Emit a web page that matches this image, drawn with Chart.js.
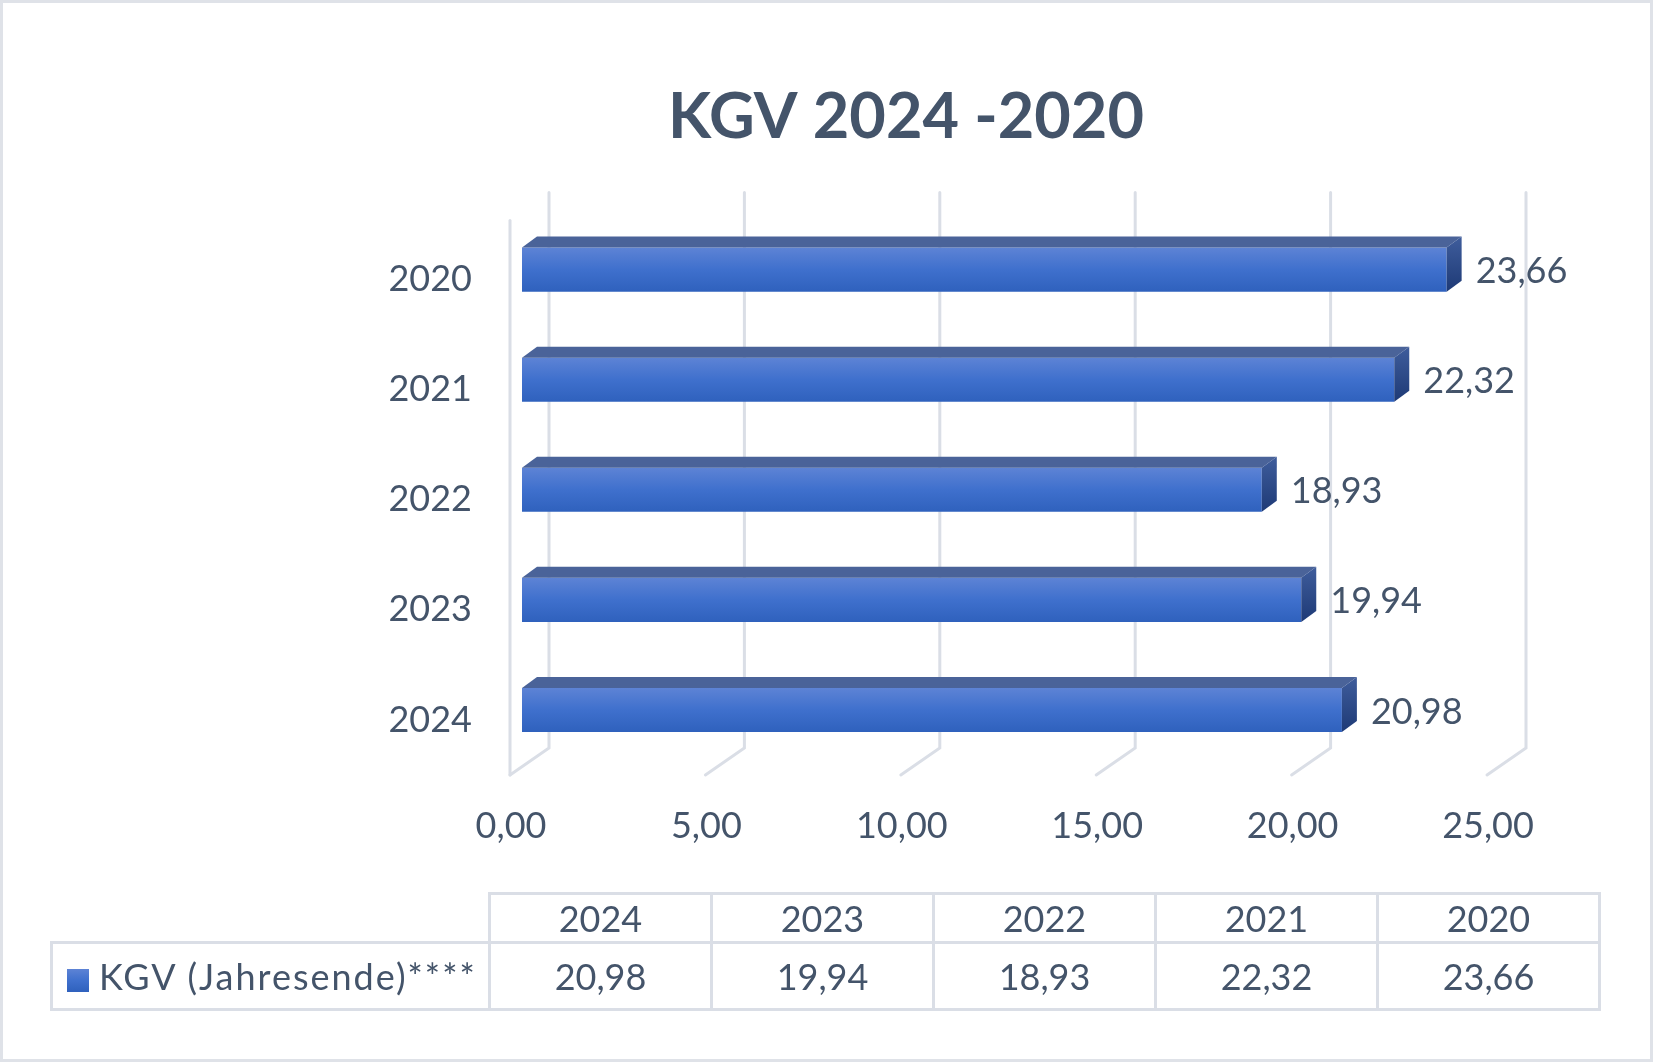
<!DOCTYPE html>
<html>
<head>
<meta charset="utf-8">
<script src="https://cdn.jsdelivr.net/npm/chart.js@4.4.1/dist/chart.umd.min.js"></script>
<style>
  html, body { margin: 0; padding: 0; background: #fff; }
  #frame {
    position: relative; width: 1653px; height: 1062px;
    box-sizing: border-box; border: 3px solid #dfe2e8; overflow: hidden;
  }
  #chart { position: absolute; left: -3px; top: -3px; }
  #dataTable {
    position: absolute; left: 47px; top: 889px;
    border-collapse: collapse; table-layout: fixed;
    font-family: Lato, sans-serif; font-size: 36px; color: #44546a;
  }
  #dataTable td { border: 3px solid #dadee6; text-align: center; padding: 0; }
  #dataTable tr.head td { height: 46px; }
  #dataTable tr.vals td { height: 64px; }
  #dataTable td.blank { border: none; }
  #dataTable td.legend { text-align: left; white-space: nowrap; letter-spacing: 2px; }
  .key {
    display: inline-block; width: 22px; height: 23px; margin: 0 10px 0 14px;
    vertical-align: -2px; background: linear-gradient(#5d83d5, #3f70cd 50%, #2f61bd);
  }
</style>
</head>
<body>
<div id="frame">
  <canvas id="chart" width="1653" height="1062"></canvas>
  <table id="dataTable"></table>
</div>
<script>
// data, first year is plotted at the bottom (Excel order)
const years = ['2024', '2023', '2022', '2021', '2020'];
const kgv = [20.98, 19.94, 18.93, 22.32, 23.66];
const seriesName = 'KGV (Jahresende)****';
const chartTitle = 'KGV 2024 -2020';

const textColor = '#44546a';
const gridColor = '#dadee6';
const fmt = (v) => v.toFixed(2).replace('.', ',');

// 3d look
const BAR_DX = 15, BAR_DY = 11;   // bar depth
const BACK_DX = 27;              // back wall offset from bar front
const FLOOR_DX = 39;             // floor diagonal

const threeD = {
    id: 'threeD',
    beforeDatasetsDraw(chart) {
        const { ctx, chartArea, scales: { x } } = chart;
        ctx.save();
        ctx.strokeStyle = gridColor;
        ctx.lineWidth = 3;
        ctx.lineCap = 'round';
        x.ticks.forEach((t) => {
            const xb = x.getPixelForValue(t.value) + BACK_DX;
            ctx.beginPath();
            ctx.moveTo(xb, chartArea.top - 22);
            ctx.lineTo(xb, chartArea.bottom - 17);
            ctx.lineTo(xb - FLOOR_DX, chartArea.bottom + 10);
            ctx.stroke();
        });
        // left wall
        const xl = x.getPixelForValue(0) + BACK_DX - FLOOR_DX;
        ctx.beginPath();
        ctx.moveTo(xl, chartArea.top + 6);
        ctx.lineTo(xl, chartArea.bottom + 10);
        ctx.stroke();
        ctx.restore();
    },
    afterDatasetsDraw(chart) {
        const { ctx } = chart;
        const meta = chart.getDatasetMeta(0);
        ctx.save();
        meta.data.forEach((bar, i) => {
            const { x, y, base, height } = bar.getProps(['x', 'y', 'base', 'height'], true);
            const top = y - height / 2, bottom = y + height / 2;
            // top face
            ctx.fillStyle = '#4a6399';
            ctx.beginPath();
            ctx.moveTo(base, top);
            ctx.lineTo(base + BAR_DX, top - BAR_DY);
            ctx.lineTo(x + BAR_DX, top - BAR_DY);
            ctx.lineTo(x, top);
            ctx.closePath();
            ctx.fill();
            // side face
            const g = ctx.createLinearGradient(0, top - BAR_DY, 0, bottom);
            g.addColorStop(0, '#3f5d9c');
            g.addColorStop(1, '#1e3a76');
            ctx.fillStyle = g;
            ctx.beginPath();
            ctx.moveTo(x, top);
            ctx.lineTo(x + BAR_DX, top - BAR_DY);
            ctx.lineTo(x + BAR_DX, bottom - BAR_DY);
            ctx.lineTo(x, bottom);
            ctx.closePath();
            ctx.fill();
            // value label
            ctx.fillStyle = textColor;
            ctx.font = '36px Lato';
            ctx.textBaseline = 'middle';
            ctx.textAlign = 'left';
            ctx.fillText(fmt(kgv[i]), x + BAR_DX + 14, y + 2);
        });
        ctx.restore();
    }
};

new Chart(document.getElementById('chart'), {
    type: 'bar',
    plugins: [threeD],
    data: {
        labels: years,
        datasets: [{
            label: seriesName,
            data: kgv,
            barPercentage: 0.8,
            categoryPercentage: 0.5,
            borderWidth: 0,
            backgroundColor: (c) => {
                const ys = c.chart.scales.y;
                const yc = ys && c.dataIndex !== undefined ? ys.getPixelForValue(c.dataIndex) : NaN;
                if (!isFinite(yc)) return '#3f70cd';
                const g = c.chart.ctx.createLinearGradient(0, yc - 22, 0, yc + 22);
                g.addColorStop(0, '#5d83d5');
                g.addColorStop(0.5, '#3f70cd');
                g.addColorStop(1, '#2f61bd');
                return g;
            }
        }]
    },
    options: {
        indexAxis: 'y',
        responsive: false,
        animation: false,
        // left padding keeps the title centred where the original has it
        layout: { padding: { left: 313, right: 154, top: 0, bottom: 0 } },
        plugins: {
            legend: { display: false },
            tooltip: { enabled: false },
            title: {
                display: true,
                text: chartTitle,
                color: textColor,
                font: { family: 'Lato', size: 63, weight: 'bold', lineHeight: 1.2 },
                padding: { top: 80, bottom: 59 }
            }
        },
        scales: {
            x: {
                min: 0,
                max: 25,
                ticks: {
                    stepSize: 5,
                    color: textColor,
                    font: { family: 'Lato', size: 36 },
                    padding: 40,
                    labelOffset: -11,
                    maxRotation: 0,
                    callback: (v) => fmt(v)
                },
                grid: { display: false, drawTicks: false },
                border: { display: false },
                afterFit: (s) => { s.height = 297; }
            },
            y: {
                reverse: true,
                ticks: {
                    color: textColor,
                    font: { family: 'Lato', size: 36 },
                    padding: 50,
                    labelOffset: 10
                },
                grid: { display: false, drawTicks: false },
                border: { display: false },
                afterFit: (s) => { s.width = 209; }
            }
        }
    }
});

// data table under the chart
const table = document.getElementById('dataTable');
const colW = 222;
let html = '<colgroup><col style="width:438px">' + years.map(() => `<col style="width:${colW}px">`).join('') + '</colgroup>';
html += '<tr class="head"><td class="blank"></td>' + years.map((y) => `<td>${y}</td>`).join('') + '</tr>';
html += `<tr class="vals"><td class="legend"><span class="key"></span>${seriesName}</td>` + kgv.map((v) => `<td>${fmt(v)}</td>`).join('') + '</tr>';
table.innerHTML = html;
</script>
</body>
</html>
